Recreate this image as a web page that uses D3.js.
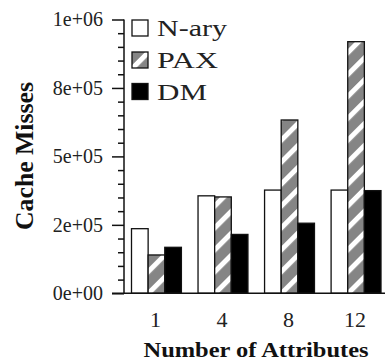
<!DOCTYPE html>
<html>
<head>
<meta charset="utf-8">
<script src="https://cdn.jsdelivr.net/npm/d3@7"></script>
<style>
  html, body { margin: 0; padding: 0; background: #fff; }
  svg { display: block; }
</style>
</head>
<body>
<script>
const categories = ["1", "4", "8", "12"];
const seriesNames = ["N-ary", "PAX", "DM"];
const naryValues = [236000, 356000, 377000, 377000];
const paxValues = [140000, 352000, 633000, 919000];
const dmValues = [168000, 215000, 256000, 375000];
const yTickValues = [0, 250000, 500000, 750000, 1000000];
const yTickLabels = ["0e+00", "2e+05", "5e+05", "8e+05", "1e+06"];
const yTitle = "Cache Misses";
const xTitle = "Number of Attributes";

const SERIF = "'Liberation Serif'";

const W = 385, H = 361;
const svg = d3.select("body").append("svg").attr("width", W).attr("height", H)
  .style("font-family", SERIF);

const defs = svg.append("defs");
const pat = defs.append("pattern")
  .attr("id", "stripes")
  .attr("patternUnits", "userSpaceOnUse")
  .attr("width", 15.5).attr("height", 15.5)
  .attr("patternTransform", "rotate(45)");
pat.append("rect").attr("width", 15.5).attr("height", 15.5).attr("fill", "#858585");
pat.append("rect").attr("x", 0).attr("width", 5).attr("height", 15.5).attr("fill", "#fff");

const fills = {"N-ary": "#fff", "PAX": "url(#stripes)", "DM": "#000"};
const seriesData = {"N-ary": naryValues, "PAX": paxValues, "DM": dmValues};

const y = d3.scaleLinear().domain([0, 1000000]).range([293.3, 19.5]);
const x0 = d3.scaleBand().domain(categories).range([131.5, 381]).paddingInner(0.25).paddingOuter(0);
const x1 = d3.scaleBand().domain(seriesNames).range([0, x0.bandwidth()]).padding(0);

// Bars
const groups = svg.append("g").selectAll("g")
  .data(categories).join("g")
  .attr("transform", d => `translate(${x0(d)},0)`);
groups.selectAll("rect")
  .data((c, i) => seriesNames.map(s => ({s, v: seriesData[s][i]})))
  .join("rect")
  .attr("x", d => x1(d.s))
  .attr("y", d => y(d.v))
  .attr("width", x1.bandwidth())
  .attr("height", d => y(0) - y(d.v))
  .attr("fill", d => fills[d.s])
  .attr("stroke", "#111")
  .attr("stroke-width", 1.3);

// Y axis: major ticks
const yAxis = d3.axisLeft(y)
  .tickValues(yTickValues)
  .tickFormat((d, i) => yTickLabels[i])
  .tickSize(12)
  .tickPadding(9);
const gy = svg.append("g").attr("transform", "translate(124,0)").call(yAxis);
gy.attr("font-family", "Liberation Serif");
gy.select(".domain").attr("stroke", "#111").attr("stroke-width", 1.5).attr("d", `M0,${y(0)}V${y(1000000)}`);
gy.selectAll(".tick line").attr("stroke", "#111").attr("stroke-width", 1.5);
gy.selectAll(".tick text").attr("font-size", 20).attr("fill", "#222").style("font-family", SERIF);

// Minor ticks
const minor = d3.range(0, 1000001, 50000).filter(v => v % 250000 !== 0);
const gym = svg.append("g").attr("transform", "translate(124,0)")
  .call(d3.axisLeft(y).tickValues(minor).tickSize(6).tickFormat(""));
gym.select(".domain").remove();
gym.selectAll(".tick line").attr("stroke", "#111").attr("stroke-width", 1.5);

// X baseline
svg.append("line").attr("x1", 112).attr("x2", 385).attr("y1", y(0)).attr("y2", y(0))
  .attr("stroke", "#111").attr("stroke-width", 1.5);

// X tick labels
const xAxis = d3.axisBottom(x0).tickSize(0).tickPadding(0);
const gx = svg.append("g").attr("transform", "translate(-1,0)").call(xAxis);
gx.attr("font-family", "Liberation Serif");
gx.select(".domain").remove();
gx.selectAll(".tick text").attr("y", 327).attr("dy", null)
  .attr("font-size", 22).attr("fill", "#222").style("font-family", SERIF);

// Axis titles
svg.append("text")
  .attr("transform", "translate(33,156) rotate(-90)")
  .attr("text-anchor", "middle")
  .attr("font-size", 25).attr("font-weight", "bold").attr("fill", "#111")
  .style("font-family", SERIF)
  .attr("textLength", 148).attr("lengthAdjust", "spacingAndGlyphs")
  .text(yTitle);
svg.append("text")
  .attr("x", 256).attr("y", 357)
  .attr("text-anchor", "middle")
  .attr("font-size", 22).attr("font-weight", "bold").attr("fill", "#111")
  .style("font-family", SERIF)
  .attr("textLength", 225).attr("lengthAdjust", "spacingAndGlyphs")
  .text(xTitle);

// Legend
const legendY = [20, 52, 83.5];
const legendW = [70, 61, 50];
const leg = svg.append("g").selectAll("g").data(seriesNames).join("g");
leg.append("rect")
  .attr("x", 132).attr("y", (d, i) => legendY[i])
  .attr("width", 16).attr("height", 16)
  .attr("fill", d => fills[d]).attr("stroke", "#111").attr("stroke-width", 1.3);
leg.append("text")
  .attr("x", 157).attr("y", (d, i) => legendY[i] + 16)
  .attr("font-size", 23).attr("fill", "#222")
  .style("font-family", SERIF)
  .attr("textLength", (d, i) => legendW[i]).attr("lengthAdjust", "spacingAndGlyphs")
  .text(d => d);
</script>
</body>
</html>
